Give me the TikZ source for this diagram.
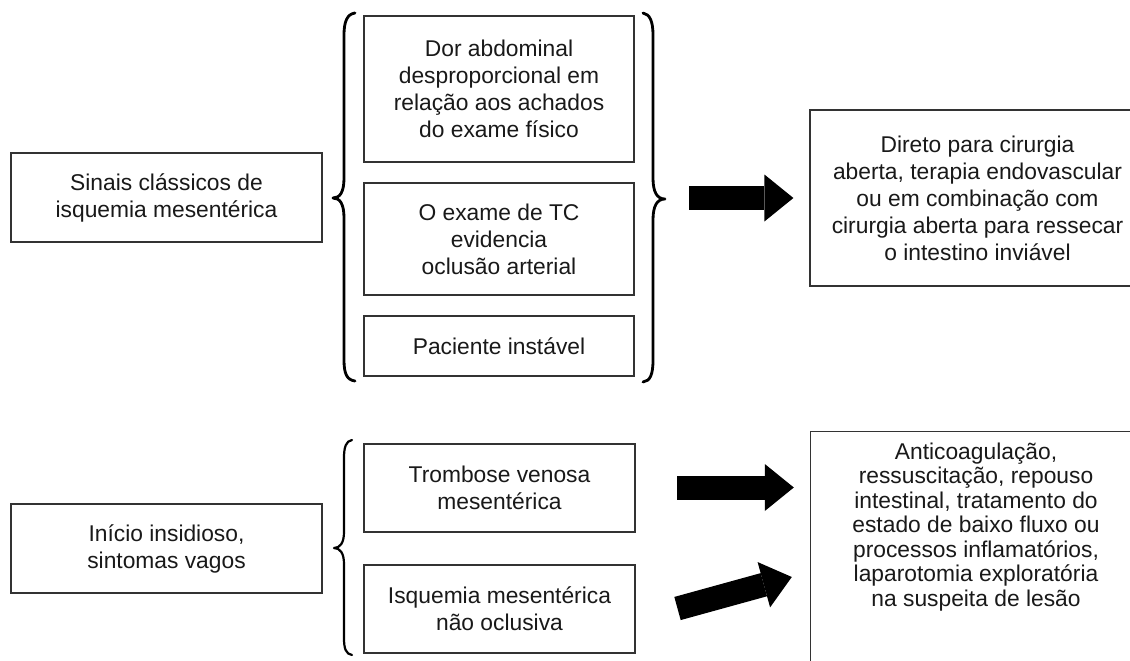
\documentclass[tikz,border=0pt]{standalone}
\usepackage{fontspec}
\setmainfont{Liberation Sans}
\usetikzlibrary{arrows.meta,calc}

\tikzset{
  txt/.style={font=\fontsize{22.8}{27}\selectfont, align=center, text=black!90, inner sep=0pt},
  boxnode/.style={txt, draw=black!80, line width=1.2pt},
  bracepath/.style={draw=black, line width=2.8pt, line cap=round, line join=round},
  blockarrow/.style={line width=24pt, draw=black,
    -{Triangle[length=29pt, width=47pt, line width=0pt]}},
}

\begin{document}
\begin{tikzpicture}[x=1pt, y=-1pt]
\useasboundingbox (0,0) rectangle (1130,661);
\clip (0,0) rectangle (1130,661);
\fill[white] (0,0) rectangle (1130,661);

% ---- upper group ----
\node[boxnode, minimum width=311pt, minimum height=89pt] (s1) at (166.5,197.5)
  {Sinais clássicos de\\isquemia mesentérica};
\node[boxnode, minimum width=270pt, minimum height=146pt] (d1) at (499,89)
  {Dor abdominal\\desproporcional em\\relação aos achados\\do exame físico};
\node[boxnode, minimum width=270pt, minimum height=112pt] (d2) at (499,239)
  {O exame de TC\\evidencia\\oclusão arterial};
\node[boxnode, minimum width=270pt, minimum height=60pt] (d3) at (499,346)
  {Paciente instável};
\node[boxnode, minimum width=335pt, minimum height=176pt] (r1) at (977.5,198)
  {Direto para cirurgia\\aberta, terapia endovascular\\ou em combinação com\\cirurgia aberta para ressecar\\o intestino inviável};

% opening brace
\path[bracepath] (355,13) .. controls (347,14) and (344,22) .. (344,35)
  -- (344,178) .. controls (344,192) and (340,198) .. (333,198)
  .. controls (340,198) and (344,204) .. (344,218)
  -- (344,360) .. controls (344,374) and (347,380) .. (355,381);
% closing brace
\path[bracepath] (643,13) .. controls (650,14) and (653,22) .. (653,35)
  -- (653,178) .. controls (653,192) and (657,199) .. (665,199)
  .. controls (657,199) and (653,206) .. (653,220)
  -- (653,360) .. controls (653,375) and (650,381) .. (643,382);

\coordinate (a1) at (689,198);
\draw[blockarrow] (a1) -- ($(r1.west)+(-16,0)$);

% ---- lower group ----
\node[boxnode, minimum width=311pt, minimum height=89pt] (s2) at (166.5,548.5)
  {Início insidioso,\\sintomas vagos};
\node[boxnode, minimum width=271pt, minimum height=88pt] (t1) at (499.5,488)
  {Trombose venosa\\mesentérica};
\node[boxnode, minimum width=271pt, minimum height=88pt] (t2) at (499.5,609)
  {Isquemia mesentérica\\não oclusiva};
\node[txt, font=\fontsize{22.8}{24.5}\selectfont, minimum width=330pt, minimum height=190pt] (r2) at (976,527)
  {Anticoagulação,\\ressuscitação, repouso\\intestinal, tratamento do\\estado de baixo fluxo ou\\processos inflamatórios,\\laparotomia exploratória\\na suspeita de lesão};
\draw[draw=black!80, line width=1.2pt]
  ([yshift=-60pt]r2.south west) -- (r2.north west) -- (r2.north east) -- ([yshift=-60pt]r2.south east);

% opening brace
\path[bracepath, line width=2.2pt] (352,440) .. controls (346,441) and (344,447) .. (344,458)
  -- (344,532) .. controls (344,543) and (340,548) .. (334,548)
  .. controls (340,548) and (344,553) .. (344,564)
  -- (344,638) .. controls (344,649) and (346,654) .. (352,655);

\coordinate (a2) at (677,487.5);
\coordinate (a3) at (677.5,608.5);
\draw[blockarrow] (a2) -- ($(a2 -| r2.west)+(-17,0)$);
\draw[blockarrow] (a3) -- ($(r2.west)+(-19,50)$);
\end{tikzpicture}
\end{document}
